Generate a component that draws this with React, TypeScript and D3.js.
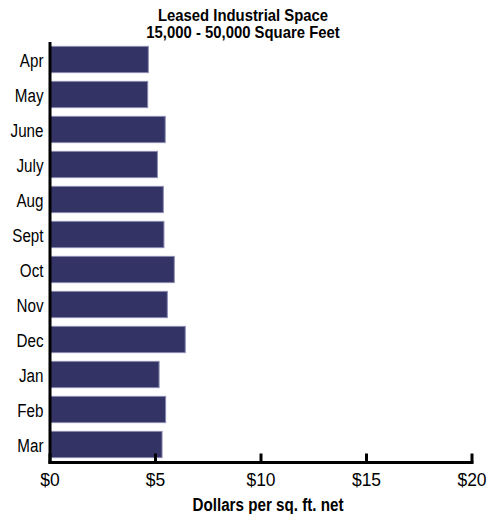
import React from "react";
import * as d3 from "d3";

const months = ["Apr", "May", "June", "July", "Aug", "Sept", "Oct", "Nov", "Dec", "Jan", "Feb", "Mar"];
const values = [4.66, 4.63, 5.46, 5.09, 5.37, 5.4, 5.89, 5.56, 6.41, 5.17, 5.48, 5.31];
const xTicks = [0, 5, 10, 15, 20];
const titleLines = ["Leased Industrial Space", "15,000 - 50,000 Square Feet"];
const xTitle = "Dollars per sq. ft. net";

const W = 491;
const H = 514;
const FONT = "'Liberation Sans', Arial, Helvetica, sans-serif";

function SText({ x, y, sx, children, ...rest }: any) {
  return (
    <text transform={`translate(${x},${y}) scale(${sx},1)`} {...rest}>
      {children}
    </text>
  );
}

export default function App() {
  const x = d3.scaleLinear().domain([0, 20]).range([50, 472]);
  const y = d3.scaleBand<string>().domain(months).range([42, 462]).paddingInner(0.25).paddingOuter(0.125);
  const axisY = 462.5;
  return (
    <svg width={W} height={H} style={{ position: "absolute", left: 0, top: 0 }} fontFamily={FONT}>
      <rect width={W} height={H} fill="#fff" />
      {titleLines.map((t, i) => (
        <SText key={i} x={243} y={20.5 + i * 17.5} sx={0.93} textAnchor="middle" fontWeight="bold" fontSize={16} fill="#000">
          {t}
        </SText>
      ))}
      {months.map((m, i) => (
        <g key={m}>
          <rect
            x={x(0)}
            y={y(m)!}
            width={x(values[i]) - x(0)}
            height={y.bandwidth()}
            fill="#333366"
            stroke="#8a8ab0"
            strokeWidth={1}
          />
          <SText x={43.5} y={y(m)! + y.bandwidth() / 2 + 7} sx={0.8} textAnchor="end" fontSize={19} fill="#000">
            {m}
          </SText>
        </g>
      ))}
      <line x1={x(0)} x2={x(0)} y1={42} y2={axisY + 1.5} stroke="#000" strokeWidth={3} />
      <line x1={x(0) - 1.5} x2={x(20) + 1.5} y1={axisY} y2={axisY} stroke="#000" strokeWidth={3} />
      {xTicks.map((t) => (
        <g key={t}>
          <line x1={x(t)} x2={x(t)} y1={axisY} y2={axisY - 9} stroke="#000" strokeWidth={3} />
          <SText x={x(t)} y={486} sx={0.92} textAnchor="middle" fontSize={19} fill="#000">
            ${t}
          </SText>
        </g>
      ))}
      <SText x={268} y={510.5} sx={0.8} textAnchor="middle" fontWeight="bold" fontSize={19} fill="#000">
        {xTitle}
      </SText>
    </svg>
  );
}
